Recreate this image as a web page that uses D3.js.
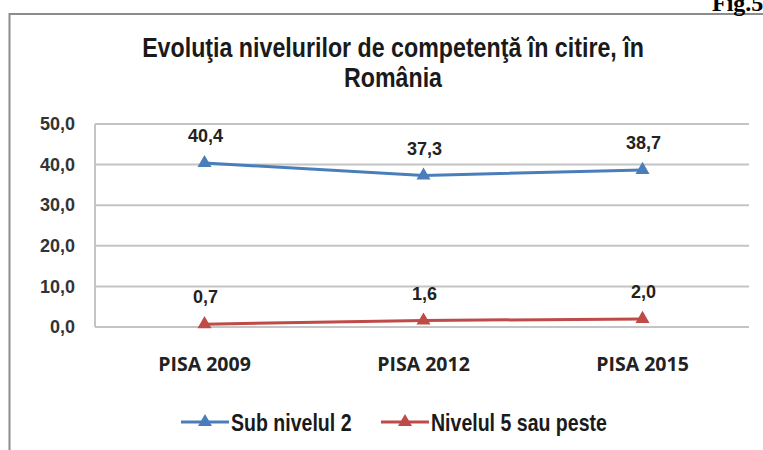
<!DOCTYPE html>
<html>
<head>
<meta charset="utf-8">
<script src="https://cdn.jsdelivr.net/npm/d3@7"></script>
<style>
    body { margin: 0; background: #fff; }
    .narrow { font-family: "Liberation Sans Narrow", "Arial Narrow", "Liberation Sans", sans-serif; font-weight: bold; }
</style>
</head>
<body>
<div id="chart"></div>
<script>
    var categories = ["PISA 2009", "PISA 2012", "PISA 2015"];
    var subNivel2 = [40.4, 37.3, 38.7];
    var nivel5 = [0.7, 1.6, 2.0];
    var seriesNames = ["Sub nivelul 2", "Nivelul 5 sau peste"];
    var seriesColors = ["#4a7ebb", "#be4b48"];
    var yTicks = [0, 10, 20, 30, 40, 50];

    var w = 763,
        h = 450;

    var svg = d3.select("#chart")
        .append("svg")
        .attr("width", w)
        .attr("height", h);

    // outer frame (right and bottom run off the picture)
    svg.append("path")
        .attr("d", "M9.5,460 V14 H770")
        .attr("fill", "none")
        .attr("stroke", "#8c8c8c")
        .attr("stroke-width", 2);

    svg.append("text")
        .attr("x", 712)
        .attr("y", 11)
        .attr("font-family", "Liberation Serif, serif")
        .attr("font-weight", "bold")
        .attr("font-size", 24)
        .attr("fill", "#000")
        .text("Fig.5");

    // title, squeezed horizontally like a narrow font
    var title = svg.append("g")
        .attr("transform", "translate(393,0) scale(0.86,1)")
        .append("text")
        .attr("class", "narrow")
        .attr("text-anchor", "middle")
        .attr("font-size", 27)
        .attr("fill", "#1a1a1a");
    title.append("tspan").attr("x", 0).attr("y", 57).text("Evoluţia nivelurilor de competenţă în citire, în");
    title.append("tspan").attr("x", 0).attr("y", 87).text("România");

    var x = d3.scaleBand().domain(categories).range([95, 752]).padding(0),
        y = d3.scaleLinear().domain([0, 50]).range([327, 124]);

    function cx(d) { return x(d) + x.bandwidth() / 2; }

    // gridlines
    svg.append("g")
        .selectAll("line")
        .data(yTicks)
        .enter().append("line")
        .attr("x1", 95)
        .attr("x2", 749)
        .attr("y1", function (d) { return y(d); })
        .attr("y2", function (d) { return y(d); })
        .attr("stroke", "#c4c4c4")
        .attr("stroke-width", 2);

    svg.append("line")
        .attr("x1", 95).attr("x2", 95)
        .attr("y1", y(50)).attr("y2", y(0))
        .attr("stroke", "#c4c4c4")
        .attr("stroke-width", 2);

    // y axis labels
    var yAxis = svg.append("g")
        .attr("transform", "translate(75,0)")
        .call(d3.axisLeft(y).tickValues(yTicks).tickSize(0).tickPadding(0)
            .tickFormat(function (d) { return d3.format(".1f")(d).replace(".", ","); }));
    yAxis.select(".domain").remove();
    yAxis.selectAll("text")
        .attr("font-family", "Liberation Sans, Arial, sans-serif")
        .attr("font-weight", "bold")
        .attr("font-size", 18)
        .attr("fill", "#333");

    // x axis labels
    var xAxis = svg.append("g")
        .attr("transform", "translate(0,357)")
        .call(d3.axisBottom(x).tickSize(0).tickPadding(0));
    xAxis.select(".domain").remove();
    xAxis.selectAll("text")
        .attr("font-family", "Open Sans, sans-serif")
        .attr("font-weight", "bold")
        .attr("font-size", 19.5)
        .attr("fill", "#222");

    var series = [subNivel2, nivel5];
    var line = d3.line()
        .x(function (d, i) { return cx(categories[i]); })
        .y(function (d) { return y(d); });
    var tri = d3.symbol().type(d3.symbolTriangle).size(85);

    series.forEach(function (vals, s) {
        svg.append("path")
            .datum(vals)
            .attr("d", line)
            .attr("fill", "none")
            .attr("stroke", seriesColors[s])
            .attr("stroke-width", 3);

        svg.append("g")
            .selectAll("path")
            .data(vals)
            .enter().append("path")
            .attr("d", tri)
            .attr("transform", function (d, i) { return "translate(" + cx(categories[i]) + "," + y(d) + ")"; })
            .attr("fill", seriesColors[s]);

        svg.append("g")
            .selectAll("text")
            .data(vals)
            .enter().append("text")
            .attr("x", function (d, i) { return cx(categories[i]) + 1; })
            .attr("y", function (d) { return y(d) - 21; })
            .attr("text-anchor", "middle")
            .attr("font-family", "Liberation Sans, Arial, sans-serif")
            .attr("font-weight", "bold")
            .attr("font-size", 18)
            .attr("fill", "#222")
            .text(function (d) { return d3.format(".1f")(d).replace(".", ","); });
    });

    // legend
    var legendX = [181, 381];
    seriesNames.forEach(function (name, s) {
        var g = svg.append("g").attr("transform", "translate(" + legendX[s] + ",422)");
        g.append("line")
            .attr("x1", 0).attr("x2", 48)
            .attr("stroke", seriesColors[s])
            .attr("stroke-width", 3);
        g.append("path")
            .attr("d", tri)
            .attr("transform", "translate(24,0)")
            .attr("fill", seriesColors[s]);
        g.append("text")
            .attr("class", "narrow")
            .attr("transform", "translate(50,9) scale(0.85,1)")
            .attr("font-size", 23)
            .attr("fill", "#1a1a1a")
            .text(name);
    });
</script>
</body>
</html>
